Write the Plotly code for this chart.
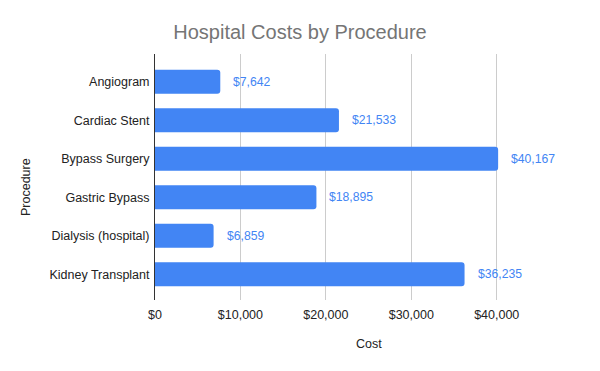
import plotly.graph_objects as go

procedures = ["Angiogram", "Cardiac Stent", "Bypass Surgery", "Gastric Bypass",
              "Dialysis (hospital)", "Kidney Transplant"]
costs = [7642, 21533, 40167, 18895, 6859, 36235]
tick_values = [0, 10000, 20000, 30000, 40000, 50000]
tick_labels = ["$0", "$10,000", "$20,000", "$30,000", "$40,000", ""]

BLUE = "#4285F4"
FONT = "Liberation Sans, Arial, sans-serif"

# plot area in pixels
L, R, T, B = 155, 583, 54, 300

fig = go.Figure()
fig.add_trace(go.Bar(
    x=costs, y=procedures, orientation="h",
    marker=dict(color=BLUE, line=dict(width=0)),
    width=0.62, hoverinfo="skip",
))

annotations = []
for p, c in zip(procedures, costs):
    annotations.append(dict(
        x=c, y=p, xref="x", yref="y", text=f"${c:,}", showarrow=False,
        xanchor="left", yanchor="middle", xshift=11,
        font=dict(color=BLUE, size=12.2, family=FONT),
    ))
annotations.append(dict(
    x=(26 - L) / (R - L), y=(B - 187) / (B - T), xref="paper", yref="paper",
    text="Procedure", showarrow=False, textangle=-90,
    xanchor="center", yanchor="middle",
    font=dict(color="#222222", size=12.5, family=FONT),
))
annotations.append(dict(
    x=(368.5 - L) / (R - L), y=(B - 344) / (B - T), xref="paper", yref="paper",
    text="Cost", showarrow=False, xanchor="center", yanchor="middle",
    font=dict(color="#222222", size=12.5, family=FONT),
))

fig.update_layout(
    width=600, height=371,
    margin=dict(l=L, r=600 - R, t=T, b=371 - B, autoexpand=False),
    paper_bgcolor="white", plot_bgcolor="white",
    font=dict(family=FONT, size=12.5, color="#222222"),
    title=dict(text="Hospital Costs by Procedure", x=0.5, xanchor="center",
               xref="container", yref="container", y=1 - 32 / 371, yanchor="middle",
               font=dict(size=20, color="#757575", family=FONT),
               automargin=False),
    barcornerradius=3,
    showlegend=False,
    annotations=annotations,
)
fig.update_xaxes(
    range=[0, 50100], tickvals=tick_values, ticktext=tick_labels,
    showgrid=True, gridcolor="#cccccc", gridwidth=1,
    zeroline=False, showline=False, automargin=False,
    tickfont=dict(size=12.5, color="#222222"),
    ticks="outside", ticklen=3, tickcolor="rgba(0,0,0,0)",
    fixedrange=True,
)
fig.update_yaxes(
    type="category", range=[5.67, -0.72],
    showgrid=False, zeroline=False, automargin=False,
    showline=True, linecolor="#333333", linewidth=1,
    tickfont=dict(size=12.5, color="#222222"),
    ticks="outside", ticklen=2, tickcolor="rgba(0,0,0,0)",
    fixedrange=True,
)

fig.write_html("out.html", config={"displayModeBar": False},
               post_script="document.body.style.margin='0';")
